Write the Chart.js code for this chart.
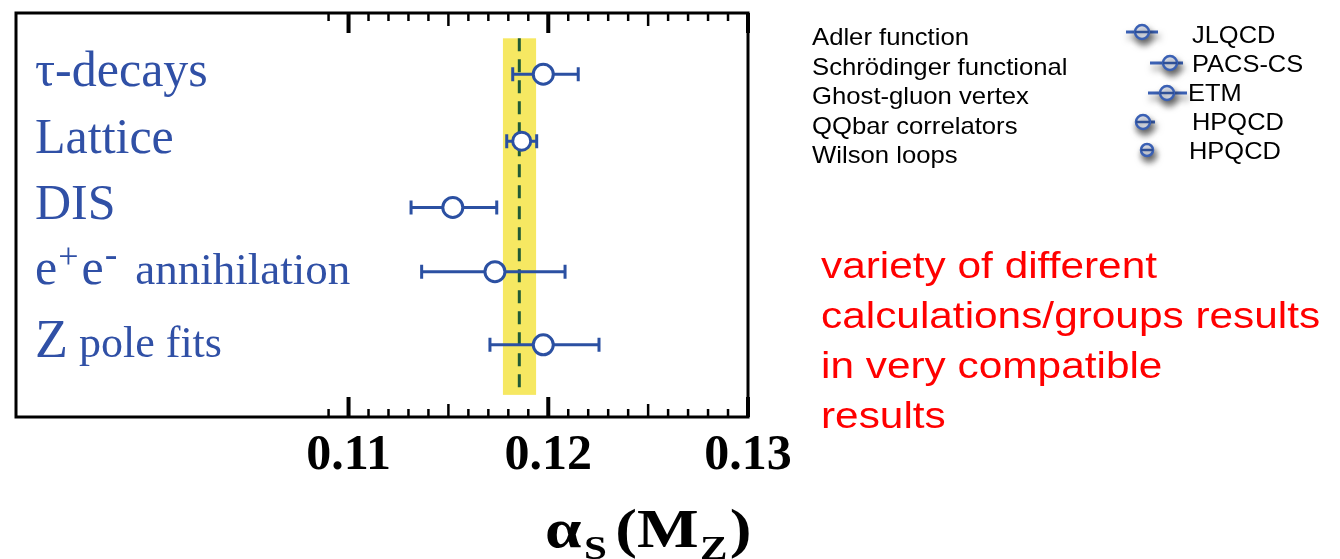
<!DOCTYPE html>
<html>
<head>
<meta charset="utf-8">
<script src="https://cdn.jsdelivr.net/npm/chart.js@4.4.1/dist/chart.umd.min.js"></script>
<style>
  html, body { margin: 0; padding: 0; background: #fff; }
  #wrap { width: 1340px; height: 559px; }
</style>
</head>
<body>
<div id="wrap"><canvas id="alphaChart" width="1340" height="559"></canvas></div>
<script>
// values
const categories = ['τ-decays', 'Lattice', 'DIS', 'e+e- annihilation', 'Z pole fits'];
const rows = [1, 1.99, 2.97, 3.92, 5];
const centralValues = [0.11975, 0.11867, 0.11522, 0.11733, 0.11975];
const errLow = [0.11822, 0.11792, 0.11313, 0.11366, 0.11708];
const errHigh = [0.12150, 0.11942, 0.11742, 0.12084, 0.12254];
const worldAverage = 0.11855;
const worldBand = [0.11773, 0.11939];
const bandSpan = [0.47, 5.74];
const xTicks = [0.11, 0.12, 0.13];
const calcMethods = ['Adler function', 'Schrödinger functional', 'Ghost-gluon vertex', 'QQbar correlators', 'Wilson loops'];
const latticeGroups = ['JLQCD', 'PACS-CS', 'ETM', 'HPQCD', 'HPQCD'];
const noteLines = ['variety of different', 'calculations/groups results', 'in very compatible', 'results'];

const BLUE = '#2b50a2';
const LABEL_BLUE = '#3050a6';
const SERIF = '"Liberation Serif", "DejaVu Serif", serif';
const SANS = '"Liberation Sans", Arial, sans-serif';

// draw a row of text pieces: [text, size, raise, bold, gapAfter]
function drawRuns(ctx, runs, x, y, color, sx) {
  sx = sx || 1;
  ctx.save();
  ctx.translate(x, y);
  ctx.scale(sx, 1);
  ctx.fillStyle = color;
  ctx.textBaseline = 'alphabetic';
  ctx.textAlign = 'left';
  let cx = 0;
  runs.forEach(r => {
    ctx.font = (r[3] ? 'bold ' : '') + r[1] + 'px ' + SERIF;
    ctx.fillText(r[0], cx, r[2]);
    cx += ctx.measureText(r[0]).width + (r[4] || 0);
  });
  ctx.restore();
}

function wideText(ctx, t, x, y, sx) {
  ctx.save();
  ctx.translate(x, y);
  ctx.scale(sx, 1);
  ctx.fillText(t, 0, 0);
  ctx.restore();
}

const alphaPlugin = {
  id: 'alphaPlugin',
  beforeDatasetsDraw(chart) {
    const { ctx, scales: { x, y } } = chart;
    ctx.save();
    // yellow band of the average
    const bx0 = x.getPixelForValue(worldBand[0]);
    const bx1 = x.getPixelForValue(worldBand[1]);
    const by0 = y.getPixelForValue(bandSpan[0]);
    const by1 = y.getPixelForValue(bandSpan[1]);
    ctx.fillStyle = '#f6e862';
    ctx.fillRect(bx0, by0, bx1 - bx0, by1 - by0);

    // dashed line at the average
    const ax = x.getPixelForValue(worldAverage);
    ctx.strokeStyle = '#1f5a35';
    ctx.lineWidth = 3;
    ctx.setLineDash([13, 8]);
    ctx.beginPath();
    ctx.moveTo(ax, by0);
    ctx.lineTo(ax, by1);
    ctx.stroke();
    ctx.setLineDash([]);

    // error bars
    ctx.strokeStyle = BLUE;
    ctx.lineWidth = 3;
    rows.forEach((r, i) => {
      const py = y.getPixelForValue(r);
      const l = x.getPixelForValue(errLow[i]);
      const h = x.getPixelForValue(errHigh[i]);
      ctx.beginPath();
      ctx.moveTo(l, py); ctx.lineTo(h, py);
      ctx.moveTo(l, py - 7); ctx.lineTo(l, py + 7);
      ctx.moveTo(h, py - 7); ctx.lineTo(h, py + 7);
      ctx.stroke();
    });
    ctx.restore();
  },
  afterDraw(chart) {
    const { ctx, chartArea: a, scales: { x, y } } = chart;
    ctx.save();

    // frame
    ctx.strokeStyle = '#000';
    ctx.lineWidth = 3;
    ctx.strokeRect(a.left, a.top, a.right - a.left, a.bottom - a.top);

    // inward ticks, every 0.001 from 0.109
    for (let i = 109; i <= 130; i++) {
      const px = x.getPixelForValue(i / 1000);
      const len = i % 10 === 0 ? 20 : (i % 5 === 0 ? 13 : 8);
      ctx.lineWidth = i % 10 === 0 ? 4 : 2.5;
      ctx.beginPath();
      ctx.moveTo(px, a.top); ctx.lineTo(px, a.top + len);
      ctx.moveTo(px, a.bottom); ctx.lineTo(px, a.bottom - len);
      ctx.stroke();
    }

    // category labels
    categories.forEach((name, i) => {
      const py = y.getPixelForValue(rows[i]) + 12;
      let runs;
      if (name.startsWith('e+e-')) {
        runs = [['e', 50, 0, false, 1], ['+', 36, -16, false, 3], ['e', 50, 0, false, 1], ['-', 38, -17, false, 18], [name.slice(5), 45, 0]];
      } else if (name.startsWith('Z ')) {
        runs = [['Z', 54, 0], [name.slice(1), 44, 0]];
      } else {
        runs = [[name, 50, 0]];
      }
      drawRuns(ctx, runs, 35, py, LABEL_BLUE);
    });

    // axis title alpha_s(M_Z)
    drawRuns(ctx, [
      ['α', 54, 0, true, 2],
      ['S', 34, 12, true, 7],
      ['(', 54, 0, true, 0],
      ['M', 54, 0, true, 1],
      ['Z', 34, 12, true, 2],
      [')', 54, 0, true, 0]
    ], 545, 547, '#000', 1.21);

    // calculation methods and groups
    ctx.font = '24px ' + SANS;
    ctx.fillStyle = '#000';
    ctx.textBaseline = 'alphabetic';
    calcMethods.forEach((t, i) => wideText(ctx, t, 812, 45 + i * 29.5, 1.07));
    const groupX = [1192, 1192, 1188, 1192, 1189];
    latticeGroups.forEach((t, i) => wideText(ctx, t, groupX[i], 43 + i * 29, 1.06));

    // little error-bar icons with shadow
    const icons = [
      [1142, 32, 1126, 1158, 7],
      [1170, 63, 1150, 1183, 7],
      [1167, 93, 1148, 1187, 7],
      [1143, 122, 1135, 1155, 7],
      [1147, 150, 1141, 1153, 6]
    ];
    icons.forEach(ic => {
      ctx.save();
      ctx.shadowColor = 'rgba(0,0,0,0.55)';
      ctx.shadowBlur = 7;
      ctx.shadowOffsetX = 2;
      ctx.shadowOffsetY = 5;
      ctx.strokeStyle = '#3a60b4';
      ctx.lineWidth = 3;
      ctx.beginPath();
      ctx.moveTo(ic[2], ic[1]); ctx.lineTo(ic[3], ic[1]);
      ctx.stroke();
      ctx.fillStyle = '#e8ecf6';
      ctx.lineWidth = 2.5;
      ctx.beginPath();
      ctx.arc(ic[0], ic[1], ic[4], 0, Math.PI * 2);
      ctx.fill();
      ctx.stroke();
      ctx.restore();
      ctx.strokeStyle = '#2e4f96';
      ctx.lineWidth = 2.5;
      ctx.beginPath();
      ctx.moveTo(ic[0] - ic[4], ic[1]); ctx.lineTo(ic[0] + ic[4], ic[1]);
      ctx.stroke();
    });

    // red note
    ctx.fillStyle = '#ff0000';
    ctx.font = '37px ' + SANS;
    noteLines.forEach((t, i) => wideText(ctx, t, 821, 278 + i * 50, 1.145));
    ctx.restore();
  }
};

new Chart(document.getElementById('alphaChart'), {
  type: 'scatter',
  data: {
    datasets: [{
      label: 'alpha_s',
      data: rows.map((r, i) => ({ x: centralValues[i], y: r })),
      pointRadius: [10, 9, 10, 10, 10],
      pointBorderWidth: 3,
      pointBorderColor: BLUE,
      pointBackgroundColor: '#fff',
      pointHoverRadius: 10
    }]
  },
  options: {
    responsive: false,
    devicePixelRatio: 1,
    animation: false,
    layout: { padding: { left: 16, top: 12, right: 592, bottom: 64 } },
    plugins: { legend: { display: false }, tooltip: { enabled: false } },
    scales: {
      x: {
        type: 'linear',
        min: 0.09335,
        max: 0.13,
        afterBuildTicks: s => { s.ticks = xTicks.map(v => ({ value: v })); },
        grid: { display: false, drawTicks: false },
        border: { display: false },
        ticks: {
          autoSkip: false,
          maxRotation: 0,
          padding: 14,
          color: '#000',
          font: { family: SERIF, size: 50, weight: 'bold', lineHeight: 1 },
          callback: v => v.toFixed(2)
        }
      },
      y: {
        type: 'linear',
        display: false,
        reverse: true,
        min: 0.096,
        max: 6.067
      }
    }
  },
  plugins: [alphaPlugin]
});
</script>
</body>
</html>
